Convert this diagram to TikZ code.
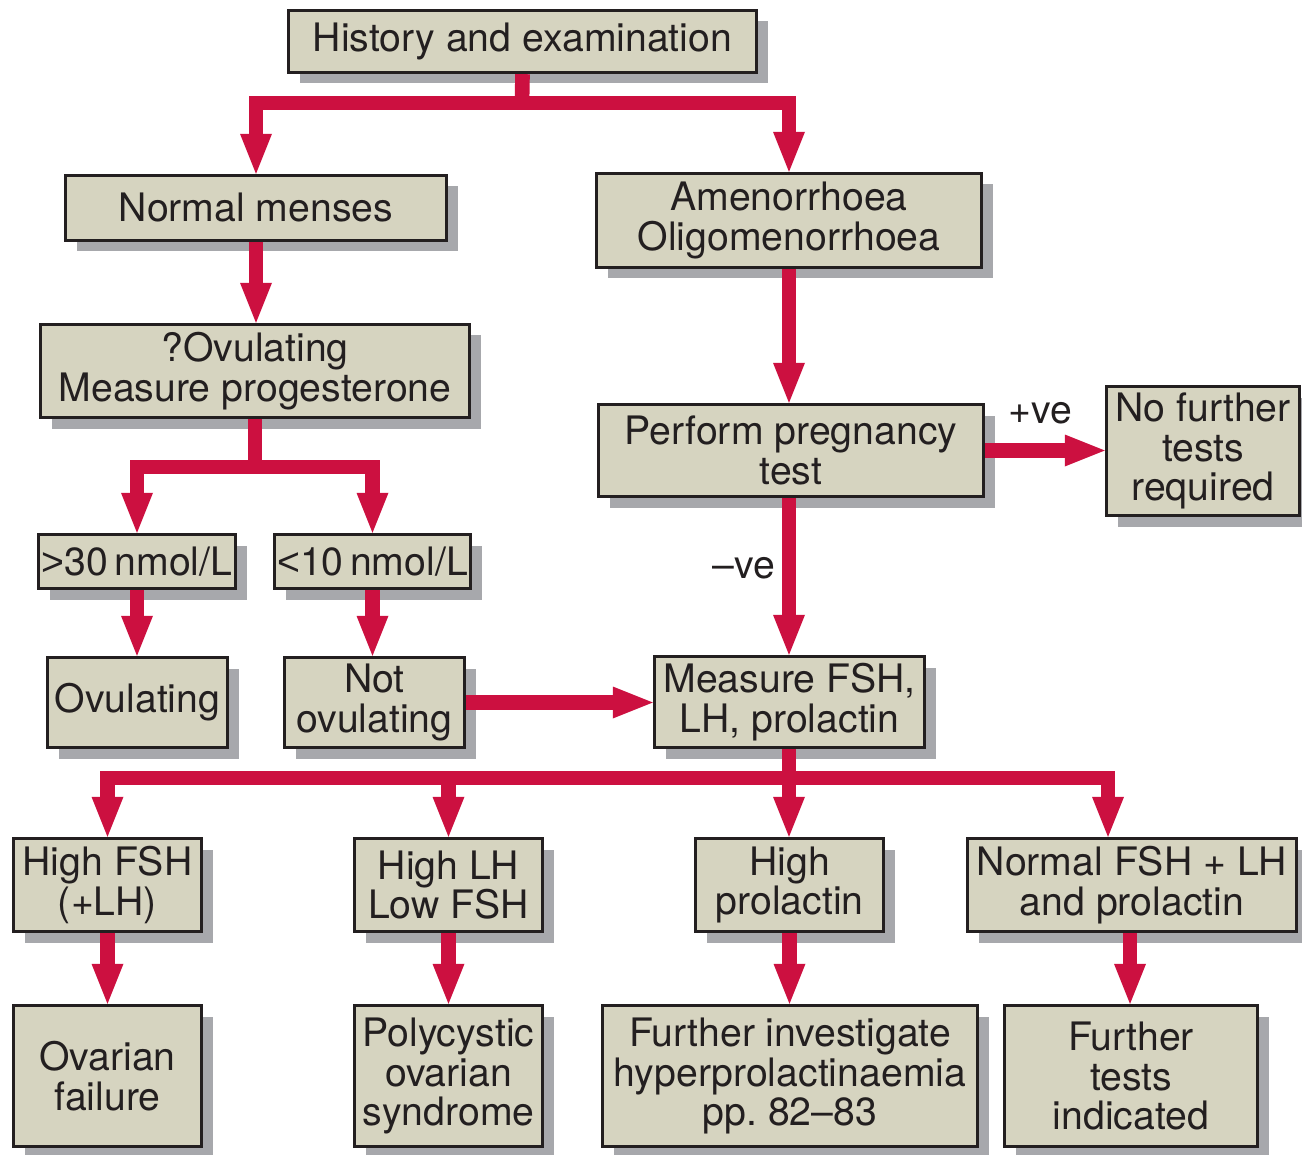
\documentclass[tikz,border=0pt]{standalone}
\usepackage{fontspec}
\setmainfont{TeX Gyre Heros}
\newfontfamily\relfont{Liberation Sans}
\usetikzlibrary{arrows.meta,shadows}
\definecolor{boxfill}{HTML}{D6D4C0}
\definecolor{shgray}{HTML}{A7A8AC}
\definecolor{arrred}{HTML}{CC1040}
\definecolor{txt}{HTML}{231F20}
\tikzset{
  box/.style={draw=txt, line width=2.5pt, fill=boxfill, inner sep=0pt, align=center,
    text=txt, font=\fontsize{29.4}{29.8}\selectfont,
    drop shadow={shadow xshift=8.25pt, shadow yshift=-8.25pt, fill=shgray, opacity=1}},
  lbl/.style={text=txt, font=\fontsize{29.4}{29.8}\selectfont, inner sep=0pt},
  flow/.style={draw=arrred, line width=11pt, line join=miter},
  arrow/.style={flow, -{Triangle[width=24pt,length=30pt,line width=0pt]}}
}
\newcommand\bx[6]{\node[box, minimum width={(#4-#2-3)*0.75pt}, minimum height={(#5-#3-3)*0.75pt}] (#1) at ({(#2+#4)/2},{(#3+#5)/2}) {#6};}
\begin{document}
\frenchspacing
\begin{tikzpicture}[x=0.75pt,y=-0.75pt]
\useasboundingbox (0,0) rectangle (1302,1155);
\bx{hist}{287}{9}{758}{74}{History and examination}
\bx{nm}{64}{174}{448}{242}{Normal menses}
\bx{am}{595}{172}{983}{269}{Amenorrhoea\\Oligomenorrhoea}
\bx{ov}{39}{323}{471}{419}{?Ovulating\\Measure progesterone}
\bx{pt}{597}{403}{985}{498}{Perform pregnancy\\test}
\bx{nf}{1105}{385}{1301}{517}{No further\\tests\\required}
\bx{g30}{37}{533}{237}{590}{{\relfont >}30\,nmol/L}
\bx{l10}{273}{533}{472}{590}{{\relfont <}10\,nmol/L}
\bx{ovl}{46}{656}{229}{749}{Ovulating}
\bx{nov}{283}{656}{466}{749}{Not\\ovulating}
\bx{meas}{653}{655}{926}{749}{Measure FSH,\\LH, prolactin}
\bx{hf}{12}{837}{203}{933}{High FSH\\(+LH)}
\bx{hl}{353}{837}{544}{933}{High LH\\Low FSH}
\bx{hp}{694}{837}{885}{933}{High\\prolactin}
\bx{nfl}{966}{837}{1298}{933}{Normal FSH + LH\\and prolactin}
\bx{of}{12}{1004}{203}{1148}{Ovarian\\failure}
\bx{pco}{353}{1004}{544}{1148}{Polycystic\\ovarian\\syndrome}
\bx{fih}{601}{1004}{979}{1148}{Further investigate\\hyperprolactinaemia\\pp.\ 82–83}
\bx{fti}{1003}{1004}{1259}{1148}{Further\\tests\\indicated}
% tree 1
\coordinate (j1) at (522,103);
\draw[flow] (hist.south) -- (j1);
\draw[arrow] (j1) -| (nm.north);
\draw[arrow] (j1) -| (am.north);
\draw[arrow] (nm.south) -- (nm.south |- ov.north);
\draw[arrow] (am.south) -- (am.south |- pt.north);
% tree 2
\coordinate (j2) at (255,467);
\draw[flow] (ov.south) -- (j2);
\draw[arrow] (j2) -| (g30.north);
\draw[arrow] (j2) -| (l10.north);
\draw[arrow] (g30.south) -- (g30.south |- ovl.north);
\draw[arrow] (l10.south) -- (l10.south |- nov.north);
\draw[arrow] (nov.east) -- (nov.east -| meas.west);
% pregnancy
\draw[arrow] (pt.east) -- (pt.east -| nf.west);
\node[lbl] (pos) at (1040,413) {+ve};
\draw[arrow] (am.south |- pt.south) -- (am.south |- meas.north);
\node[lbl] (neg) at (744,568) {–ve};
% tree 3
\coordinate (j3) at (789,778);
\coordinate (j3r) at (1108,778);
\draw[flow] (meas.south -| j3) -- (j3);
\draw[arrow] (j3) -| (hf.north);
\draw[arrow] (j3) -| (hl.north);
\draw[arrow] (j3) -- (j3 |- hp.north);
\draw[arrow] (j3) -- (j3r) -- (j3r |- nfl.north);
\draw[arrow] (hf.south) -- (hf.south |- of.north);
\draw[arrow] (hl.south) -- (hl.south |- pco.north);
\draw[arrow] (hp.south) -- (hp.south |- fih.north);
\draw[arrow] (1130,933) coordinate (nfb) (nfb) -- (nfb |- fti.north);
\end{tikzpicture}
\end{document}
